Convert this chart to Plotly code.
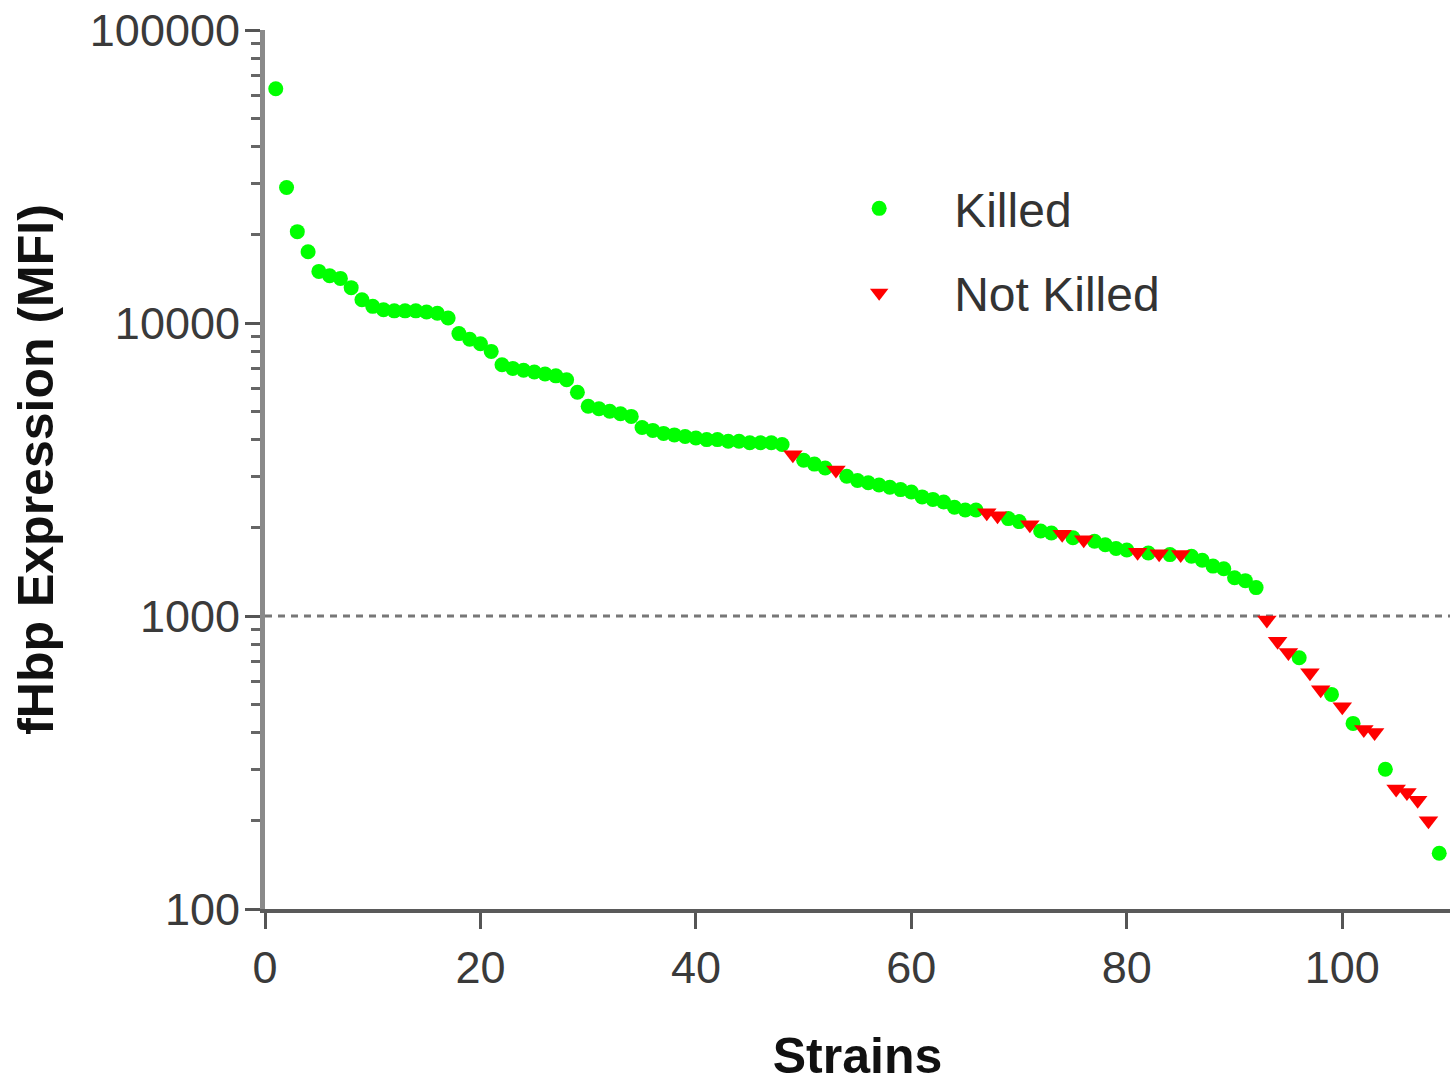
import plotly.graph_objects as go

# fHbp expression (MFI) per strain, ranked from highest to lowest,
# split by bactericidal outcome.
killed_strain = [
    1, 2, 3, 4, 5, 6, 7, 8, 9, 10, 11, 12, 13, 14, 15, 16, 17, 18, 19, 20,
    21, 22, 23, 24, 25, 26, 27, 28, 29, 30, 31, 32, 33, 34, 35, 36, 37, 38,
    39, 40, 41, 42, 43, 44, 45, 46, 47, 48, 50, 51, 52, 54, 55, 56, 57, 58,
    59, 60, 61, 62, 63, 64, 65, 66, 69, 70, 72, 73, 75, 77, 78, 79, 80, 82,
    84, 86, 87, 88, 89, 90, 91, 92, 96, 99, 101, 104, 109,
]
killed_mfi = [
    63000, 29000, 20500, 17500, 15000, 14500, 14200, 13200, 12000, 11400,
    11100, 11000, 11000, 11000, 10900, 10800, 10400, 9200, 8800, 8500,
    8000, 7200, 7000, 6900, 6800, 6700, 6600, 6400, 5800, 5200,
    5100, 5000, 4900, 4800, 4400, 4300, 4200, 4150, 4100, 4050,
    4000, 4000, 3950, 3950, 3900, 3900, 3900, 3850, 3400, 3300,
    3200, 3000, 2900, 2850, 2800, 2750, 2700, 2650, 2550, 2500,
    2450, 2350, 2300, 2300, 2150, 2100, 1950, 1920, 1850, 1800,
    1750, 1700, 1680, 1640, 1620, 1600, 1550, 1480, 1450, 1350,
    1320, 1250, 720, 540, 430, 300, 155,
]

not_killed_strain = [
    49, 53, 67, 68, 71, 74, 76, 81, 83, 85, 93, 94, 95, 97, 98, 100,
    102, 103, 105, 106, 107, 108,
]
not_killed_mfi = [
    3550, 3150, 2250, 2200, 2050, 1900, 1820, 1650, 1630, 1620, 970, 820,
    750, 640, 560, 490, 410, 400, 257, 250, 235, 200,
]

threshold_mfi = 1000

y_tick_vals = [100, 1000, 10000, 100000]
y_tick_text = ["100", "1000", "10000", "100000"]
y_minor_vals = [m * d for d in (100, 1000, 10000) for m in range(2, 10)]
x_tick_vals = [0, 20, 40, 60, 80, 100]

label_font = dict(family="Liberation Sans, Arial, sans-serif", size=45, color="#3a3a3a")
title_font = dict(family="Liberation Sans, Arial, sans-serif", size=50, color="#111111",
                  weight="bold")

fig = go.Figure()

fig.add_trace(go.Scatter(
    x=killed_strain, y=killed_mfi, mode="markers", name="Killed",
    legendgroup="killed",
    marker=dict(symbol="circle", size=15, color="#00ff00"),
))
fig.add_trace(go.Scatter(
    x=not_killed_strain, y=not_killed_mfi, mode="markers", name="Not Killed",
    legendgroup="notkilled",
    marker=dict(symbol="triangle-down", size=17, color="#ff0000"),
))

fig.add_shape(
    type="line", xref="paper", yref="y", x0=0, x1=1,
    y0=threshold_mfi, y1=threshold_mfi,
    line=dict(color="#777777", width=3, dash="7px,6px"),
    layer="below",
)

fig.update_layout(
    width=1450, height=1084,
    margin=dict(l=265, r=0, t=30, b=175, autoexpand=False),
    paper_bgcolor="white", plot_bgcolor="white",
    showlegend=True,
    legend=dict(
        x=0.455, y=0.84, xanchor="left", yanchor="top",
        font=dict(family="Liberation Sans, Arial, sans-serif", size=48, color="#333333"),
        itemwidth=140, tracegroupgap=19, bgcolor="rgba(0,0,0,0)",
        traceorder="grouped",
    ),
    xaxis=dict(
        range=[0, 110], tickvals=x_tick_vals, ticks="outside", ticklen=16,
        tickwidth=3, tickcolor="#555555", showline=True, linewidth=4,
        linecolor="#5a5a5a", showgrid=False, zeroline=False,
        tickfont=label_font,
        title=dict(text="Strains", font=title_font, standoff=62),
        automargin=False,
    ),
    yaxis=dict(
        type="log", range=[2, 5], tickvals=y_tick_vals, ticktext=y_tick_text,
        ticks="outside", ticklen=15, tickwidth=3, tickcolor="#555555",
        showline=True, linewidth=5, linecolor="#8a8a8a", showgrid=False,
        zeroline=False, tickfont=label_font, ticklabelstandoff=-4,
        minor=dict(tickmode="array", tickvals=y_minor_vals, ticks="outside",
                   ticklen=9, tickwidth=3, tickcolor="#666666", showgrid=False),
        title=dict(text="fHbp Expression (MFI)", font=title_font, standoff=22),
        automargin=False,
    ),
)

fig.write_html("out.html")
